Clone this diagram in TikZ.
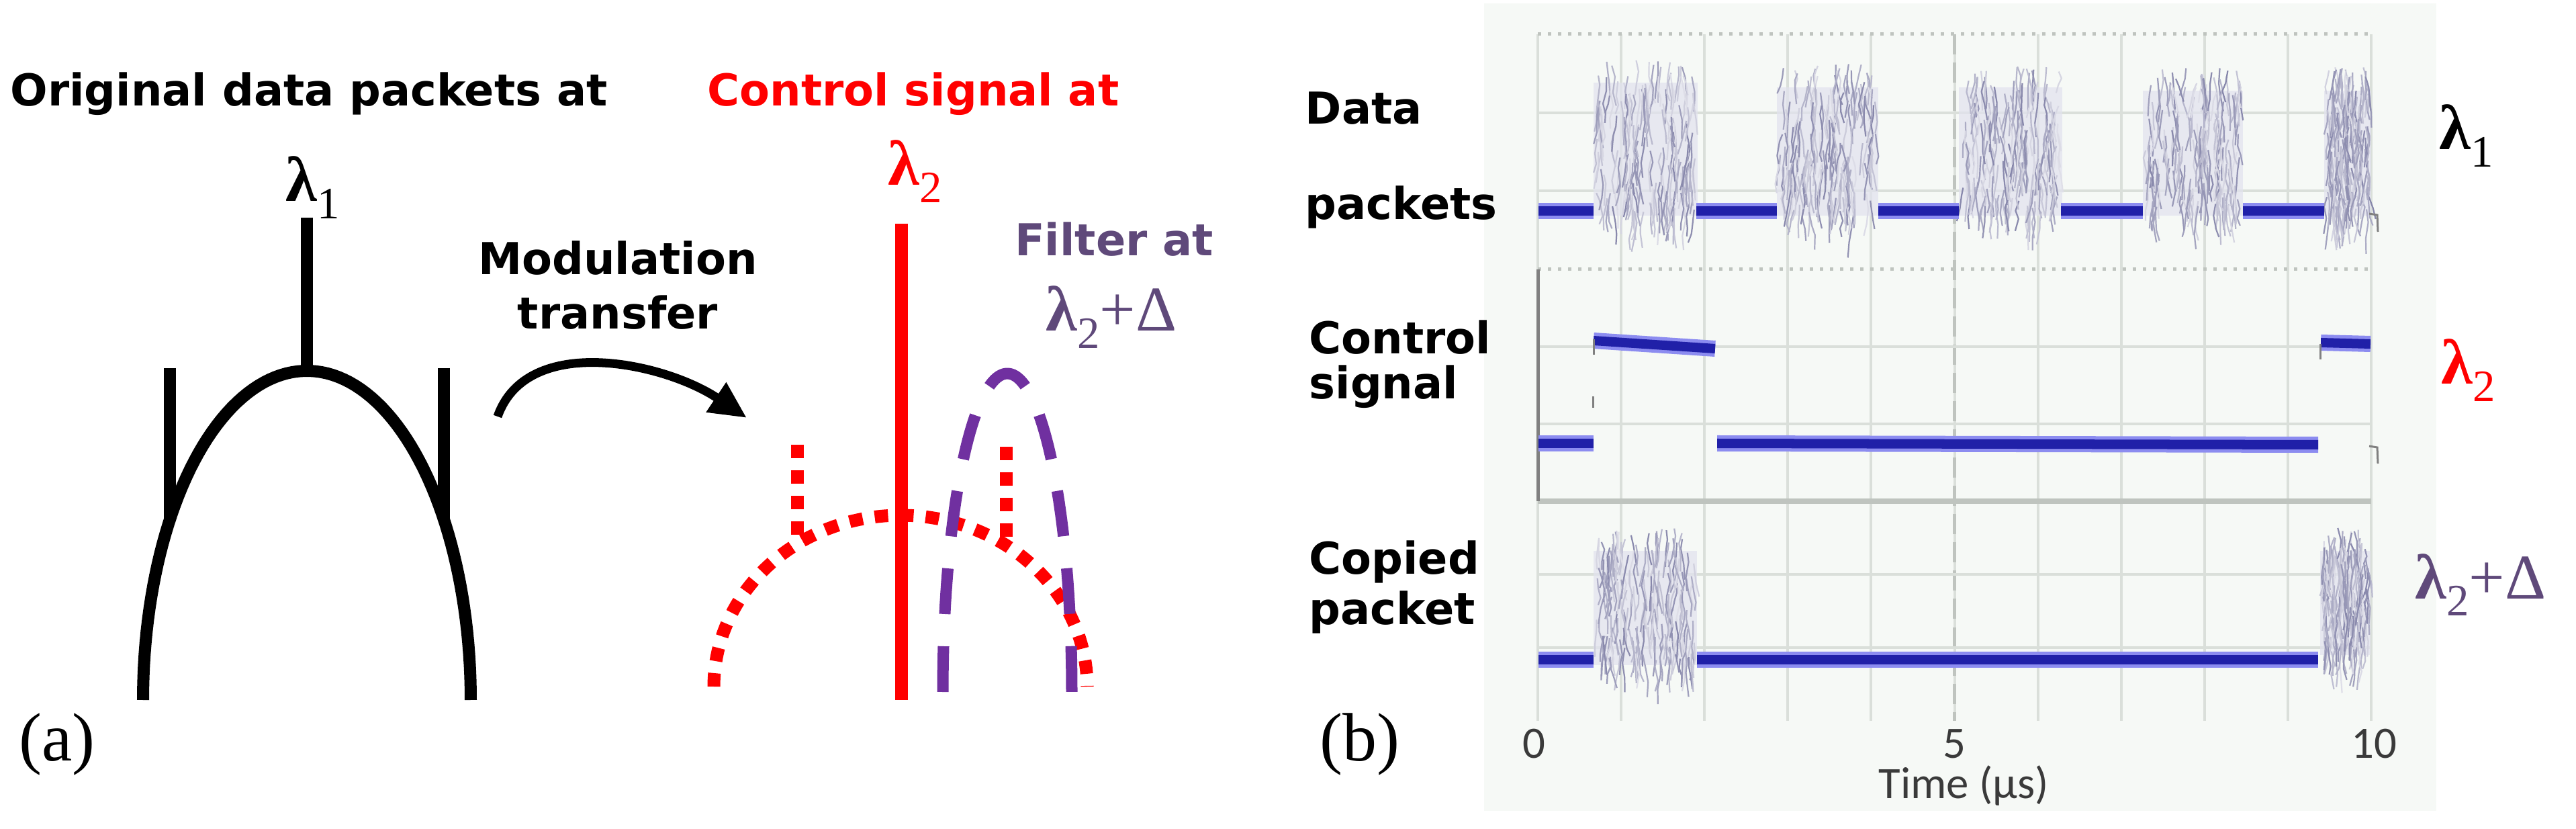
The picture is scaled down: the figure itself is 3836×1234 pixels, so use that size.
\documentclass[tikz,border=0pt]{standalone}
\usepackage{fontspec}
\setmainfont{Liberation Serif}
\newfontfamily\headfont{DejaVu Sans}
\newfontfamily\scopefont{Carlito}
\usetikzlibrary{arrows.meta}
\definecolor{filterline}{HTML}{7030A0}
\definecolor{filtertext}{HTML}{5F497A}
\definecolor{scopebg}{HTML}{F6F9F6}
\definecolor{gridcol}{HTML}{DADFDA}
\definecolor{gridmid}{HTML}{BFC4BF}
\definecolor{traceblue}{HTML}{2020A8}
\definecolor{tracehalo}{HTML}{8C8CF0}
\definecolor{burstcol}{HTML}{5E5E8E}
\definecolor{burstfill}{HTML}{E2E2EE}
\definecolor{scopetext}{HTML}{3A3A3A}
\newcommand{\lam}[1]{{\bfseries λ}\raisebox{-0.25cm}{\fontsize{19}{19}\selectfont #1}}

\begin{document}
\begin{tikzpicture}[x=0.01cm, y=-0.01cm,
  head/.style={font=\headfont\bfseries\fontsize{18.6}{20}\selectfont, inner sep=0pt, anchor=base west},
  greek/.style={font=\fontsize{27}{28}\selectfont, inner sep=0pt, anchor=base west},
  tag/.style={font=\fontsize{29}{30}\selectfont, inner sep=0pt, anchor=base west},
  tick/.style={font=\scopefont\fontsize{19}{20}\selectfont, text=scopetext, inner sep=0pt, anchor=base},
  spec/.style={line width=0.18cm},
  carrier/.style={red, line width=0.19cm},
  sideband/.style={red, line width=0.19cm, dash pattern=on 0.2cm off 0.18cm},
  filter/.style={filterline, line width=0.17cm, dash pattern=on 0.68cm off 0.48cm},
  flow/.style={line width=0.13cm, -{Triangle[length=0.55cm, width=0.5cm]}},
  grid/.style={gridcol, line width=0.04cm},
  gridtick/.style={gridmid, line width=0.05cm, dash pattern=on 0.05cm off 0.1cm},
  burst/.style={line width=0.022cm, line join=round},
  trace/.style={traceblue, line width=0.14cm, preaction={draw=tracehalo, line width=0.24cm}},
  blip/.style={gray, line width=0.03cm}]

  \useasboundingbox (0,0) rectangle (3836,1234);

  % (a) spectra
  \node[head] (orig) at (15,158) {Original data packets at};
  \node[head, text=red] (ctrl) at (1053,158) {Control signal at};
  \node[greek] (lam1) at (425,300) {\lam{1}};
  \node[greek, text=red] (lam2) at (1322,276) {\lam{2}};
  \node[head, anchor=base] (mod) at (920,409) {Modulation};
  \node[head, anchor=base] (trans) at (920,490) {transfer};
  \node[head, anchor=base, text=filtertext] (filt) at (1659,381) {Filter at};
  \node[greek, text=filtertext] (filtlam) at (1557,493) {\lam{2}+Δ};
  \node[tag] (taga) at (28,1132) {(a)};

  \draw[spec] plot[domain=180:0, samples=90] ({457+244*cos(\x)}, {1042-490*sin(\x)});
  \draw[spec] (457,324) -- (457,556);
  \draw[spec] (253,548) -- (253,776);
  \draw[spec] (661,548) -- (661,776);

  \coordinate (arrS) at (741,620);
  \coordinate (arrE) at (1112,622);
  \draw[flow] (arrS) .. controls (785,495) and (990,540) .. (arrE);

  \draw[carrier] (1342,333) -- (1342,1042);
  \draw[sideband] plot[domain=180:0, samples=90] ({1341+278*cos(\x)}, {1022-255*sin(\x)});
  \draw[sideband] (1187,662) -- (1187,800);
  \draw[sideband] (1498,665) -- (1498,800);
  \draw[filter] plot[domain=180:0, samples=90] ({1500+96*cos(\x)}, {1030-474*sin(\x)});

  % (b) scope traces
  \fill[scopebg] (2210,5) rectangle (3628,1207);
  \foreach \k in {0,...,10}
    \draw[grid] ({2290+124.1*\k},51) -- ({2290+124.1*\k},1073);
  \draw[gridtick, dash pattern=on 0.3cm off 0.12cm] (2910.5,51) -- (2910.5,1073);
  \foreach \y in {168,284,516,631,855,964}
    \draw[grid] (2290,\y) -- (3531,\y);
  \foreach \y in {51,401}
    \draw[gridtick] (2290,\y) -- (3531,\y);
  \draw[gridmid, line width=0.07cm] (2290,746) -- (3531,746);
  \draw[gray, line width=0.05cm] (2290,401) -- (2290,746);

  \pgfmathsetseed{11}
  \foreach \xa/\xb/\ya/\yb in {2373/2528/88/356, 2646/2797/95/356, 2917/3071/95/356,
      3191/3340/100/356, 3461/3531/100/356, 2373/2527/785/1025, 3455/3530/785/1010}{
    \fill[burstfill, opacity=0.7] (\xa,{\ya+35}) rectangle (\xb,{\yb-35});
    \foreach \k in {1,...,170}{
      \pgfmathsetmacro\px{\xa+4+rnd*(\xb-\xa-8)}
      \pgfmathsetmacro\py{\ya+rnd*(\yb-\ya-40)}
      \pgfmathsetmacro\tone{20+rnd*55}
      \draw[burst, burstcol!\tone!white] (\px,\py) -- ++({rnd*10-5},{10+rnd*14})
        -- ++({rnd*10-5},{10+rnd*14}) -- ++({rnd*10-5},{10+rnd*14});
    }
  }

  \foreach \xa/\xb in {2291/2373, 2526/2646, 2797/2917, 3069/3191, 3340/3461}
    \draw[trace] (\xa,314) -- (\xb,314);
  \draw[trace] (2291,660) -- (2373,660);
  \draw[trace] (2557,660) -- (3452,662);
  \draw[trace] (2373,507) -- (2554,519);
  \draw[trace] (3456,510) -- (3530,512);
  \draw[trace] (2291,982) -- (2373,982);
  \draw[trace] (2527,982) -- (3452,982);
  \draw[blip] (2373,505) -- (2373,528);
  \draw[blip] (2372,590) -- (2372,607);
  \draw[blip] (3455,512) -- (3455,535);
  \draw[blip] (3528,318) -- (3540,320) -- (3541,345);
  \draw[blip] (3528,664) -- (3540,666) -- (3541,690);

  \node[head] (data) at (1943,185) {Data};
  \node[head] (pkts) at (1943,327) {packets};
  \node[head] (csig) at (1949,527) {Control};
  \node[head] (csig2) at (1949,594) {signal};
  \node[head] (copy) at (1949,854) {Copied};
  \node[head] (copy2) at (1949,929) {packet};
  \node[greek] (rlam1) at (3632,223) {\lam{1}};
  \node[greek, text=red] (rlam2) at (3635,572) {\lam{2}};
  \node[greek, text=filtertext] (rlam3) at (3596,891) {\lam{2}+Δ};
  \node[tag] (tagb) at (1965,1132) {(b)};

  \node[tick] (t0) at (2284,1128) {0};
  \node[tick] (t5) at (2910,1128) {5};
  \node[tick] (t10) at (3535,1128) {10};
  \node[tick] (taxis) at (2924,1188) {Time (µs)};
\end{tikzpicture}
\end{document}
